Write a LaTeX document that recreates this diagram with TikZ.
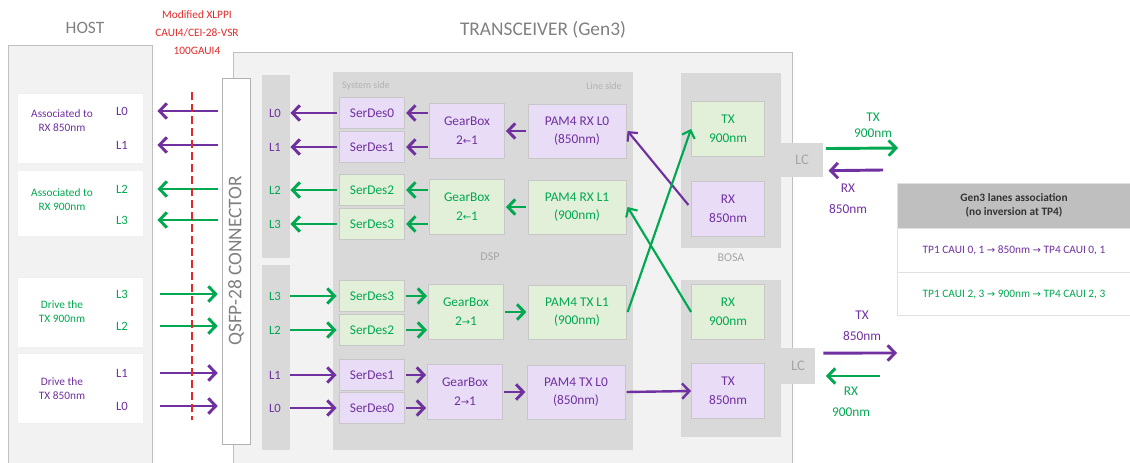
\documentclass[tikz,border=0pt]{standalone}
\usepackage{fontspec}
\setmainfont{Carlito}
\newfontfamily\symfont{DejaVu Sans}
\usepackage{graphicx}
\usepackage{tikz}
\usetikzlibrary{arrows.meta,positioning}
\definecolor{lanepurple}{RGB}{112,48,160}
\definecolor{lanegreen}{RGB}{0,168,80}
\definecolor{boxpurple}{RGB}{232,220,246}
\definecolor{boxgreen}{RGB}{226,240,217}
\definecolor{xlppired}{RGB}{225,40,40}
\newcommand{\gbright}{{\symfont\fontsize{7.5}{8}\selectfont →}}
\newcommand{\gbleft}{{\symfont\fontsize{7.5}{8}\selectfont ←}}
\tikzset{
  title/.style={text=black!50,font=\fontsize{13}{14}\selectfont},
  whitebox/.style={rectangle,draw=black!6,fill=white,minimum width=94.5pt,minimum height=52.5pt},
  hosttext/.style={align=center,font=\fontsize{8.5}{10.5}\selectfont},
  lane/.style={inner sep=1pt,font=\fontsize{9.5}{10}\selectfont},
  connbox/.style={rectangle,draw=black!30,fill=white,minimum width=21pt,minimum height=274.5pt,inner sep=0pt,text=black!50,font=\fontsize{14.5}{15}\selectfont},
  pbox/.style={rectangle,draw=black!22,fill=boxpurple,text=lanepurple,align=center,inner sep=1pt},
  gbox/.style={rectangle,draw=black!22,fill=boxgreen,text=lanegreen,align=center,inner sep=1pt},
  serdes/.style={minimum width=48.75pt,minimum height=23.25pt,font=\fontsize{10}{11}\selectfont},
  gear/.style={minimum width=56pt,minimum height=41pt,font=\fontsize{10}{14}\selectfont},
  pam/.style={minimum width=73.5pt,minimum height=40.5pt,font=\fontsize{10}{14}\selectfont},
  optic/.style={minimum width=55pt,minimum height=41pt,font=\fontsize{10}{14}\selectfont},
  lctab/.style={rectangle,fill=black!15,text=black!35,font=\fontsize{11}{12}\selectfont},
  sidelabel/.style={text=black!30,font=\fontsize{7.5}{8}\selectfont},
  arealabel/.style={text=black!35,font=\fontsize{9}{10}\selectfont},
  fibretext/.style={align=center,font=\fontsize{10}{12}\selectfont},
  tabhead/.style={rectangle,draw=black!12,fill=black!25,text=black!80,minimum width=175.5pt,minimum height=33.75pt,align=center,font=\bfseries\fontsize{8.5}{11}\selectfont},
  tabrow/.style={rectangle,draw=black!12,fill=white,minimum width=175.5pt,minimum height=32.5pt,font=\fontsize{8.5}{10}\selectfont},
  parrow/.style={draw=lanepurple,line width=2.2pt,-{Straight Barb[length=5.5pt,width=11.5pt]}},
  garrow/.style={draw=lanegreen,line width=2.2pt,-{Straight Barb[length=5.5pt,width=11.5pt]}},
  pcross/.style={draw=lanepurple,line width=1.6pt,-{Straight Barb[length=5pt,width=10pt]}},
  gcross/.style={draw=lanegreen,line width=1.6pt,-{Straight Barb[length=5pt,width=10pt]}}
}

\begin{document}
\begin{tikzpicture}[x=0.75pt,y=-0.75pt]
    \useasboundingbox (0,0) rectangle (1130,463);

    % host and transceiver areas
    \fill[black!5] (8,45) rectangle (152,463);
    \draw[black!25] (8,463) |- (152,45) -- (152,463);
    \fill[black!5] (233,52) rectangle (792,463);
    \draw[black!25] (233,463) |- (792,52) -- (792,463);
    \node[title] (host) at (85,28) {HOST};
    \node[title, font=\fontsize{14.5}{15}\selectfont] (trx) at (543,30) {TRANSCEIVER (Gen3)};
    \node[align=center, text=xlppired, font=\fontsize{8.5}{13.5}\selectfont] (xlppi) at (197,33) {Modified XLPPI\\CAUI4/CEI-28-VSR\\100GAUI4};

    % host lanes
    \node[whitebox] (hb1) at (80,128) {};
    \node[whitebox, minimum height=49.5pt] (hb2) at (80,203) {};
    \node[whitebox] (hb3) at (80,312) {};
    \node[whitebox] (hb4) at (80,388) {};
    \node[hosttext, text=lanepurple] (hrx850) at (62,121) {Associated to\\RX 850nm};
    \node[hosttext, text=lanegreen] (hrx900) at (62,200) {Associated to\\RX 900nm};
    \node[hosttext, text=lanegreen] (htx900) at (62,312) {Drive the\\TX 900nm};
    \node[hosttext, text=lanepurple] (htx850) at (62,389) {Drive the\\TX 850nm};
    \node[lane, text=lanepurple] (hL0r) at (122,111) {L0};
    \node[lane, text=lanepurple] (hL1r) at (122,145) {L1};
    \node[lane, text=lanegreen] (hL2r) at (122,189) {L2};
    \node[lane, text=lanegreen] (hL3r) at (122,220) {L3};
    \node[lane, text=lanegreen] (hL3t) at (122,294) {L3};
    \node[lane, text=lanegreen] (hL2t) at (122,326) {L2};
    \node[lane, text=lanepurple] (hL1t) at (122,373) {L1};
    \node[lane, text=lanepurple] (hL0t) at (122,406) {L0};

    % connector
    \node[connbox] (conn) at (236,261) {\rotatebox{90}{QSFP-28 CONNECTOR}};

    \draw[parrow] ([xshift=-3pt]conn.west |- hL0r) -- ([xshift=21pt]hL0r.east);
    \draw[parrow] ([xshift=-3pt]conn.west |- hL1r) -- ([xshift=21pt]hL1r.east);
    \draw[garrow] ([xshift=-3pt]conn.west |- hL2r) -- ([xshift=21pt]hL2r.east);
    \draw[garrow] ([xshift=-3pt]conn.west |- hL3r) -- ([xshift=21pt]hL3r.east);
    \draw[garrow] ([xshift=23pt]hL3t.east) -- ([xshift=-3pt]conn.west |- hL3t);
    \draw[garrow] ([xshift=23pt]hL2t.east) -- ([xshift=-3pt]conn.west |- hL2t);
    \draw[parrow] ([xshift=23pt]hL1t.east) -- ([xshift=-3pt]conn.west |- hL1t);
    \draw[parrow] ([xshift=23pt]hL0t.east) -- ([xshift=-3pt]conn.west |- hL0t);

    % red reference plane
    \draw[xlppired, line width=1.5pt, dash pattern=on 6pt off 3pt] (192,92) -- (192,420);

    % lane strips and DSP area
    \fill[black!15] (262,75) rectangle (290,258);
    \fill[black!15] (262,265) rectangle (290,450);
    \fill[black!15] (333,72) rectangle (633,450);
    \node[sidelabel] (sysside) at (366,86) {System side};
    \node[sidelabel] (lineside) at (604,86) {Line side};
    \node[arealabel] (dsp) at (490,257) {DSP};

    \node[lane, text=lanepurple] (sL0r) at (275,113) {L0};
    \node[lane, text=lanepurple] (sL1r) at (275,147) {L1};
    \node[lane, text=lanegreen] (sL2r) at (275,190) {L2};
    \node[lane, text=lanegreen] (sL3r) at (275,224) {L3};
    \node[lane, text=lanegreen] (sL3t) at (275,296) {L3};
    \node[lane, text=lanegreen] (sL2t) at (275,330) {L2};
    \node[lane, text=lanepurple] (sL1t) at (275,375) {L1};
    \node[lane, text=lanepurple] (sL0t) at (275,408) {L0};

    % receive path
    \node[pbox, serdes] (sdr0) at (372,113) {SerDes0};
    \node[pbox, serdes] (sdr1) at (372,147) {SerDes1};
    \node[gbox, serdes] (sdr2) at (372,190) {SerDes2};
    \node[gbox, serdes] (sdr3) at (372,224) {SerDes3};
    \node[pbox, gear] (gbr0) at (467,131) {GearBox\\2\gbleft1};
    \node[gbox, gear] (gbr1) at (467,207) {GearBox\\2\gbleft1};
    \node[pbox, pam] (pamrx0) at (577,131) {PAM4 RX L0\\(850nm)};
    \node[gbox, pam] (pamrx1) at (577,207) {PAM4 RX L1\\(900nm)};

    % transmit path
    \node[gbox, serdes] (sdt3) at (372,296) {SerDes3};
    \node[gbox, serdes] (sdt2) at (372,330) {SerDes2};
    \node[pbox, serdes] (sdt1) at (372,375) {SerDes1};
    \node[pbox, serdes] (sdt0) at (372,408) {SerDes0};
    \node[gbox, gear] (gbt1) at (466,312) {GearBox\\2\gbright1};
    \node[pbox, gear] (gbt0) at (465,392) {GearBox\\2\gbright1};
    \node[gbox, pam] (pamtx1) at (577,312) {PAM4 TX L1\\(900nm)};
    \node[pbox, pam] (pamtx0) at (576,392) {PAM4 TX L0\\(850nm)};

    \draw[parrow] ([xshift=-2pt]sdr0.west) -- ([xshift=6pt]sL0r.east);
    \draw[parrow] ([xshift=-2pt]sdr1.west) -- ([xshift=6pt]sL1r.east);
    \draw[garrow] ([xshift=-2pt]sdr2.west) -- ([xshift=6pt]sL2r.east);
    \draw[garrow] ([xshift=-2pt]sdr3.west) -- ([xshift=6pt]sL3r.east);
    \draw[garrow] ([xshift=6pt]sL3t.east) -- ([xshift=-2pt]sdt3.west);
    \draw[garrow] ([xshift=6pt]sL2t.east) -- ([xshift=-2pt]sdt2.west);
    \draw[parrow] ([xshift=6pt]sL1t.east) -- ([xshift=-2pt]sdt1.west);
    \draw[parrow] ([xshift=6pt]sL0t.east) -- ([xshift=-2pt]sdt0.west);

    \draw[parrow] ([xshift=-1pt]gbr0.west |- sdr0) -- ([xshift=1pt]sdr0.east);
    \draw[parrow] ([xshift=-1pt]gbr0.west |- sdr1) -- ([xshift=1pt]sdr1.east);
    \draw[garrow] ([xshift=-1pt]gbr1.west |- sdr2) -- ([xshift=1pt]sdr2.east);
    \draw[garrow] ([xshift=-1pt]gbr1.west |- sdr3) -- ([xshift=1pt]sdr3.east);
    \draw[parrow] ([xshift=-1pt]pamrx0.west) -- ([xshift=1pt]gbr0.east);
    \draw[garrow] ([xshift=-1pt]pamrx1.west) -- ([xshift=1pt]gbr1.east);

    \draw[garrow] ([xshift=1pt]sdt3.east) -- ([xshift=-1pt]gbt1.west |- sdt3);
    \draw[garrow] ([xshift=1pt]sdt2.east) -- ([xshift=-1pt]gbt1.west |- sdt2);
    \draw[parrow] ([xshift=1pt]sdt1.east) -- ([xshift=-1pt]gbt0.west |- sdt1);
    \draw[parrow] ([xshift=1pt]sdt0.east) -- ([xshift=-1pt]gbt0.west |- sdt0);
    \draw[garrow] ([xshift=1pt]gbt1.east) -- ([xshift=-1pt]pamtx1.west);
    \draw[parrow] ([xshift=1pt]gbt0.east) -- ([xshift=-1pt]pamtx0.west);

    % BOSA
    \fill[black!15] (681,73) rectangle (781,248);
    \fill[black!15] (681,280) rectangle (781,437);
    \node[arealabel] (bosa) at (731,258) {BOSA};
    \node[lctab, minimum width=31.5pt, minimum height=26pt] (lctop) at (802,160) {LC};
    \node[lctab, minimum width=25.5pt, minimum height=27pt] (lcbot) at (798,366) {LC};
    \node[gbox, optic] (tx900) at (728,129) {TX\\900nm};
    \node[pbox, optic] (rx850) at (728,209) {RX\\850nm};
    \node[gbox, optic] (rx900) at (728,312) {RX\\900nm};
    \node[pbox, optic] (tx850) at (728,391) {TX\\850nm};

    \draw[pcross] ([xshift=-2pt,yshift=3pt]rx850.west) -- ([xshift=1pt]pamrx0.east);
    \draw[gcross] ([xshift=1pt]pamtx1.east) -- (tx900.west);
    \draw[gcross] (rx900.west) -- ([xshift=1pt]pamrx1.east);
    \draw[parrow, line width=1.8pt] ([xshift=1pt]pamtx0.east) -- (tx850.west);

    % fibre side
    \coordinate (fibtx900) at (898,148);
    \coordinate (fibrx850) at (883,170);
    \coordinate (fibtx850) at (897,353);
    \coordinate (fibrx900) at (880,376);
    \draw[garrow] ([xshift=2pt,yshift=8.6pt]lctop.east) -- (fibtx900);
    \draw[parrow] (fibrx850) -- ([xshift=4pt,yshift=-8pt]lctop.east);
    \draw[parrow] ([xshift=6pt,yshift=9.7pt]lcbot.east) -- (fibtx850);
    \draw[garrow] (fibrx900) -- ([xshift=8pt,yshift=-7.5pt]lcbot.east);
    \node[fibretext, text=lanegreen] (ltx900) at (873,125) {TX\\900nm};
    \node[fibretext, text=lanepurple, font=\fontsize{10}{16}\selectfont] (lrx850) at (848,199) {RX\\850nm};
    \node[fibretext, text=lanepurple, font=\fontsize{10}{16}\selectfont] (ltx850) at (862,326) {TX\\850nm};
    \node[fibretext, text=lanegreen, font=\fontsize{10}{16}\selectfont] (lrx900) at (851,402) {RX\\900nm};

    % lanes association table
    \node[tabhead] (gen3) at (1014,205.5) {Gen3 lanes association\\(no inversion at TP4)};
    \node[tabrow, text=lanepurple, below=0pt of gen3] (row850) {TP1 CAUI 0, 1 \gbright{} 850nm \gbright{} TP4 CAUI 0, 1};
    \node[tabrow, text=lanegreen, below=0pt of row850] (row900) {TP1 CAUI 2, 3 \gbright{} 900nm \gbright{} TP4 CAUI 2, 3};
\end{tikzpicture}
\end{document}
